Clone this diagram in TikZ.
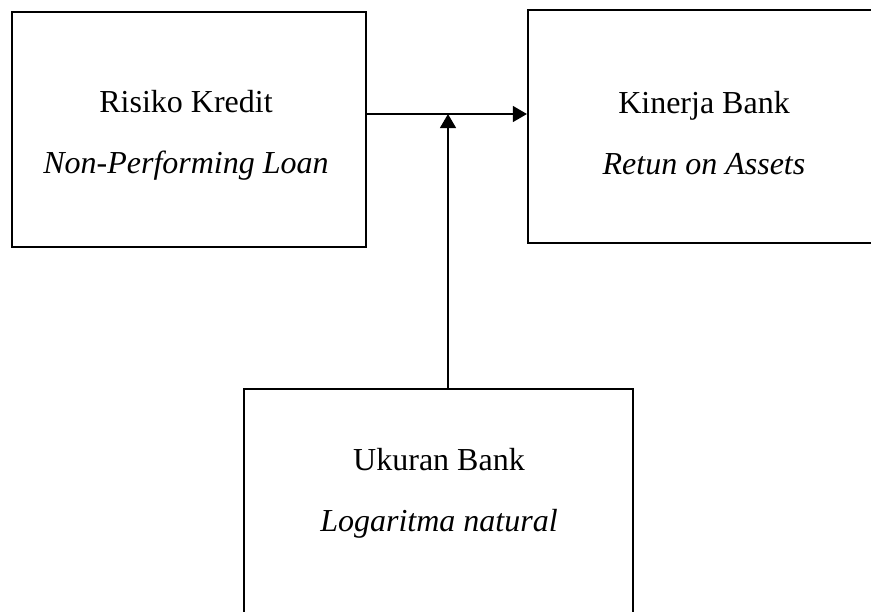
\documentclass[tikz,border=0pt]{standalone}
\usepackage{fontspec}
\setmainfont{Liberation Serif}
\usetikzlibrary{arrows.meta,positioning}

\begin{document}
\begin{tikzpicture}[x=0.5pt,y=-0.5pt,>={Triangle[length=7pt,width=8pt]},
                    font=\fontsize{16pt}{30.5pt}\selectfont]
	  \tikzstyle{box}=[draw=black,line width=1.1pt,rectangle,inner sep=0pt]
	  \tikzstyle{caption}=[align=center,inner sep=0pt,text=black]
	  \tikzstyle{link}=[->,line width=0.6pt]

	  \useasboundingbox (0,0) rectangle (871,611);

	  \node[box,minimum width=177pt,minimum height=117.5pt] (risk) at (189,129.5) {};
	  \node[box,minimum width=176pt,minimum height=116.5pt] (perf) at (704,126.5) {};
	  \node[box,minimum width=194.5pt,minimum height=125.5pt] (size) at (438.5,514.5) {};

	  \node[caption] (risk-text) at (186,135) {Risiko Kredit\\ \textit{Non-Performing Loan}};
	  \node[caption] (perf-text) at (704,133) {Kinerja Bank\\ \textit{Retun on Assets}};
	  \node[caption] (size-text) at (439,493) {Ukuran Bank\\ \textit{Logaritma natural}};

	  \coordinate (mod) at (448,114);

	  \path (risk.east |- mod) edge[link] (perf.west |- mod)
	  (size.north -| mod) edge[link] (mod);
	\end{tikzpicture}
\end{document}
